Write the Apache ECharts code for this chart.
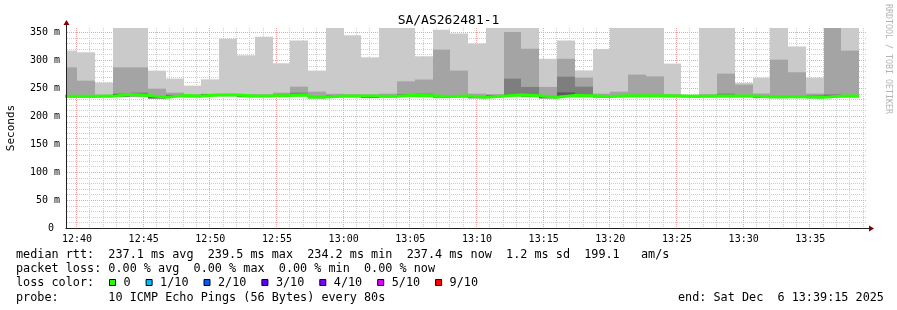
<!DOCTYPE html>
<html><head><meta charset="utf-8">
<script src="https://cdn.jsdelivr.net/npm/echarts@6/dist/echarts.min.js"></script>
<style>html,body{margin:0;padding:0;background:#fff}#c{width:897px;height:310px}</style>
</head><body><div id="c"></div>
<script>
// ---- data (ms) ----
const intervalEnd = ['12:40:00','12:41:20','12:42:40','12:44:00','12:45:20','12:46:40','12:48:00','12:49:20','12:50:40','12:52:00',
 '12:53:20','12:54:40','12:56:00','12:57:20','12:58:40','13:00:00','13:01:20','13:02:40','13:04:00','13:05:20',
 '13:06:40','13:08:00','13:09:20','13:10:40','13:12:00','13:13:20','13:14:40','13:16:00','13:17:20','13:18:40',
 '13:20:00','13:21:20','13:22:40','13:24:00','13:25:20','13:26:40','13:28:00','13:29:20','13:30:40','13:32:00',
 '13:33:20','13:34:40','13:36:00','13:37:20','13:38:40'];
const stepSeconds = 80;
const median = [235.1,235.1,235.4,238.1,236.6,233.3,236.3,235.7,237.5,237.5,
 235.7,236.0,236.5,237.5,233.9,235.4,235.7,235.4,235.2,237.0,
 236.2,234.6,235.7,233.5,235.7,237.5,236.0,233.3,236.6,236.0,
 234.9,236.0,236.0,236.0,235.7,235.1,235.4,235.7,235.7,234.2,
 234.5,234.5,233.6,235.4,235.4];
const pingMax = [316.6,313.6,259.5,380,380,280.9,266.6,254.1,265.4,338.0,
 308.3,341.6,294.0,334.5,281.0,380,344.0,304.7,380,380,
 306.5,354.0,347.0,329.5,380,380,380,302.0,334.5,281.3,
 319.6,380,380,380,293.4,237.8,380,380,258.9,268.4,
 380,323.8,268.4,390,380];
const ping9 = [286.8,263.0,238.0,286.8,286.8,248.7,241.6,238.5,239.5,239.5,
 239.0,238.5,241.6,252.3,243.4,239.5,239.0,238.5,239.8,261.8,
 265.0,318.4,281.0,239.8,239.0,350.0,320.0,251.8,302.0,268.4,
 239.8,243.4,273.8,270.7,239.0,237.2,239.0,275.5,256.0,240.0,
 300.5,278.0,240.0,380,316.6];
const ping8 = [236.6,236.6,236.9,240.0,241.6,234.8,237.8,237.2,239.0,239.0,
 237.2,237.5,238.0,241.6,235.4,236.9,237.2,236.9,236.7,238.5,
 239.8,236.1,237.2,235.0,237.2,266.6,251.8,234.8,270.0,252.3,
 236.4,237.5,237.5,237.5,237.2,236.6,236.9,239.8,237.2,235.7,
 236.0,236.0,237.5,238.6,236.9];
const ping7 = [236.1,236.1,236.4,239.1,237.6,234.3,237.3,236.7,238.5,238.5,
 236.7,237.0,237.5,238.5,234.9,236.4,236.7,236.4,236.2,238.0,
 237.2,235.6,236.7,234.5,236.7,238.5,237.0,234.3,242.0,237.0,
 235.9,237.0,237.0,237.0,236.7,236.1,236.4,236.7,236.7,235.2,
 235.5,235.5,234.6,236.4,236.4];
const ping4 = [234.1,234.1,234.4,235.0,235.6,231.8,235.3,234.7,236.5,236.5,
 234.7,235.0,235.5,236.5,232.3,234.4,234.7,232.5,234.2,236.0,
 235.2,233.6,234.7,232.5,234.7,236.5,235.0,232.3,235.6,235.0,
 233.9,235.0,235.0,235.0,234.7,234.1,234.4,234.7,234.7,233.2,
 233.5,233.5,232.6,234.4,234.4];
const ping3 = [233.6,233.6,233.9,234.6,235.1,231.3,234.8,234.2,236.0,236.0,
 234.2,234.5,235.0,236.0,231.9,233.9,234.2,232.2,233.7,235.5,
 234.7,233.1,234.2,232.0,234.2,236.0,234.5,231.8,235.1,234.5,
 233.4,234.5,234.5,234.5,234.2,233.6,233.9,234.2,234.2,232.7,
 233.0,233.0,232.1,233.9,233.9];
const ping2 = [233.1,233.1,233.4,234.2,234.6,230.9,234.3,233.7,235.5,235.5,
 233.7,234.0,234.5,235.5,231.5,233.4,233.7,231.9,233.2,235.0,
 234.2,232.6,233.7,231.5,233.7,235.5,234.0,231.3,234.6,234.0,
 232.9,234.0,234.0,234.0,233.7,233.1,233.4,233.7,233.7,232.2,
 232.5,232.5,231.6,233.4,233.4];
const pingMin = [232.1,232.1,232.4,233.3,233.2,230.4,233.3,232.2,234.5,234.5,
 232.6,233.0,233.5,234.5,230.8,232.4,232.7,231.5,232.2,234.0,
 233.2,231.0,232.7,230.5,232.7,234.5,233.0,230.3,233.6,233.0,
 231.9,233.0,233.0,233.0,232.7,232.6,232.4,232.7,232.7,231.2,
 230.8,231.5,230.6,232.4,232.4];
const yTicks = [0,50,100,150,200,250,300,350];
const xTickLabels = ['12:40','12:45','12:50','12:55','13:00','13:05','13:10','13:15','13:20','13:25','13:30','13:35'];
const lossLabels = ['0','1/10','2/10','3/10','4/10','5/10','9/10'];
const lossColors = ['#26ff00','#00b8ff','#0059ff','#5e00ff','#7e00ff','#dd00ff','#ff0000'];
const smokeColors = ['#cacaca','#a4a4a4','#7e7e7e','#585858'];

// ---- build ----
const FONT = '"DejaVu Sans Mono", monospace';
const toSec = s => { const p = s.split(':').map(Number); return p[0]*3600 + p[1]*60 + (p[2]||0); };
const xMin = toSec('12:39:15'), xMax = toSec('13:39:15');
const yMax = 357;
const xTickValues = xTickLabels.map(toSec);
const smokeData = intervalEnd.map((t, i) => [toSec(t) - stepSeconds, toSec(t),
  pingMin[i], ping2[i], ping3[i], ping4[i], ping7[i], ping8[i], ping9[i], pingMax[i]]);
const medianData = intervalEnd.map((t, i) => [toSec(t) - stepSeconds, median[i]]);
medianData.push([toSec(intervalEnd[intervalEnd.length-1]), median[median.length-1]]);

function clipRect(shape, cs) {
  return echarts.graphic.clipRectByRect(shape, {x: cs.x, y: cs.y, width: cs.width, height: cs.height});
}

const chart = echarts.init(document.getElementById('c'), null, {renderer: 'canvas', width: 897, height: 310});
const legendChildren = [];
let bx = 109;
lossLabels.forEach((lab, i) => {
  legendChildren.push({type: 'rect', shape: {x: bx + 0.5, y: 279.5, width: 6, height: 6},
    style: {fill: lossColors[i], stroke: '#000', lineWidth: 1}});
  const tx = bx + 14.5;
  legendChildren.push({type: 'text', x: tx, y: 283, style: {text: lab, font: '11.8px ' + FONT, fill: '#000', verticalAlign: 'middle'}});
  bx = tx + lab.length * 7.1 + 15;
});

const option = {
  backgroundColor: '#ffffff',
  animation: false,
  title: {text: 'SA/AS262481-1', left: 'center', top: 14, padding: 0,
    textStyle: {fontFamily: FONT, fontSize: 13, fontWeight: 'normal', color: '#000', lineHeight: 14}},
  grid: {left: 67, top: 28, width: 800, height: 200, containLabel: false, outerBoundsMode: 'none'},
  xAxis: {type: 'value', min: xMin, max: xMax,
    axisLine: {show: false}, axisTick: {show: false}, splitLine: {show: false},
    axisLabel: {customValues: xTickValues, margin: 6, fontFamily: FONT, fontSize: 10, color: '#000',
      formatter: v => { const i = xTickValues.indexOf(v); return i >= 0 ? xTickLabels[i] : ''; }}},
  yAxis: {type: 'value', min: 0, max: yMax, interval: 50,
    name: 'Seconds', nameLocation: 'middle', nameGap: 50, nameRotate: 90,
    nameTextStyle: {fontFamily: FONT, fontSize: 11, color: '#000'},
    axisLine: {show: false}, axisTick: {show: false}, splitLine: {show: false},
    axisLabel: {margin: 7, fontFamily: FONT, fontSize: 10, color: '#000', showMaxLabel: false,
      formatter: v => yTicks.indexOf(v) < 0 ? '' : (v === 0 ? '0 ' : v + ' m')}},
  graphic: [
    {type: 'text', x: 16, y: 254.5, style: {text: 'median rtt:  237.1 ms avg  239.5 ms max  234.2 ms min  237.4 ms now  1.2 ms sd  199.1   am/s', font: '11.8px ' + FONT, fill: '#000', verticalAlign: 'middle'}},
    {type: 'text', x: 16, y: 269, style: {text: 'packet loss: 0.00 % avg  0.00 % max  0.00 % min  0.00 % now', font: '11.8px ' + FONT, fill: '#000', verticalAlign: 'middle'}},
    {type: 'text', x: 16, y: 283, style: {text: 'loss color:', font: '11.8px ' + FONT, fill: '#000', verticalAlign: 'middle'}},
    {type: 'text', x: 16, y: 297.5, style: {text: 'probe:       10 ICMP Echo Pings (56 Bytes) every 80s', font: '11.8px ' + FONT, fill: '#000', verticalAlign: 'middle'}},
    {type: 'text', x: 678, y: 297.5, style: {text: 'end: Sat Dec  6 13:39:15 2025', font: '11.8px ' + FONT, fill: '#000', verticalAlign: 'middle'}},
    {type: 'text', x: 888, y: 4, rotation: -Math.PI / 2, style: {text: 'RRDTOOL / TOBI OETIKER', font: '8.3px ' + FONT, fill: '#b4b4b4', verticalAlign: 'middle'}},
    {type: 'group', children: legendChildren}
  ],
  series: [
    { // background grid
      type: 'custom', z: 0, silent: true, data: [[xMin, 0]],
      renderItem: (params, api) => {
        const cs = params.coordSys, ch = [];
        const top = cs.y, bottom = cs.y + cs.height, left = cs.x, right = cs.x + cs.width;
        for (let s = Math.ceil(xMin / 60) * 60; s < xMax; s += 60) {
          const x = Math.round(api.coord([s, 0])[0]) - 0.5;
          const major = (s % 300) === 0;
          ch.push({type: 'line', shape: {x1: x, y1: top, x2: x, y2: bottom},
            style: {stroke: major ? '#f2a0a0' : '#cdcdcd', lineWidth: 1, lineDash: [1, 1]}});
        }
        for (let v = 10; v < yMax; v += 10) {
          const y = Math.round(api.coord([xMin, v])[1]) + 0.5;
          const major = (v % 50) === 0;
          ch.push({type: 'line', shape: {x1: left, y1: y, x2: right, y2: y},
            style: {stroke: major ? '#f2a0a0' : '#cdcdcd', lineWidth: 1, lineDash: [1, 1]}});
        }
        return {type: 'group', children: ch};
      }
    },
    { // smoke
      type: 'custom', z: 2, silent: true, data: smokeData,
      encode: {x: [0, 1], y: [2, 9]},
      renderItem: (params, api) => {
        const cs = params.coordSys;
        const x0 = Math.round(api.coord([api.value(0), 0])[0]);
        const x1 = Math.round(api.coord([api.value(1), 0])[0]);
        const pairs = [[2, 9], [3, 8], [4, 7], [5, 6]];
        const ch = [];
        pairs.forEach((p, k) => {
          const yLo = api.coord([api.value(0), api.value(p[0])])[1];
          const yHi = api.coord([api.value(0), api.value(p[1])])[1];
          const shape = clipRect({x: x0, y: yHi, width: x1 - x0, height: yLo - yHi}, cs);
          if (shape) ch.push({type: 'rect', shape: shape, style: {fill: smokeColors[k]}});
        });
        return {type: 'group', children: ch};
      }
    },
    { // median rtt coloured by loss
      type: 'line', z: 4, data: medianData, step: 'end', symbol: 'none', silent: true,
      lineStyle: {color: lossColors[0], width: 3}
    },
    { // axes with arrows
      type: 'custom', z: 6, silent: true, data: [[xMin, 0]],
      renderItem: (params, api) => {
        const o = api.coord([xMin, 0]);
        const ax = Math.round(o[0]) - 0.5, ay = Math.round(o[1]) + 0.5;
        const topY = Math.round(api.coord([xMin, yMax])[1]);
        const rightX = Math.round(api.coord([xMax, 0])[0]);
        return {type: 'group', children: [
          {type: 'line', shape: {x1: ax, y1: ay, x2: ax, y2: topY - 3}, style: {stroke: '#222', lineWidth: 1}},
          {type: 'line', shape: {x1: ax - 1, y1: ay, x2: rightX + 2, y2: ay}, style: {stroke: '#222', lineWidth: 1}},
          {type: 'polygon', shape: {points: [[ax, topY - 8], [ax - 3, topY - 3], [ax + 3, topY - 3]]}, style: {fill: '#7f0000'}},
          {type: 'polygon', shape: {points: [[rightX + 7, ay], [rightX + 2, ay - 3], [rightX + 2, ay + 3]]}, style: {fill: '#7f0000'}}
        ]};
      }
    }
  ]
};
chart.setOption(option);
</script>
</body></html>
